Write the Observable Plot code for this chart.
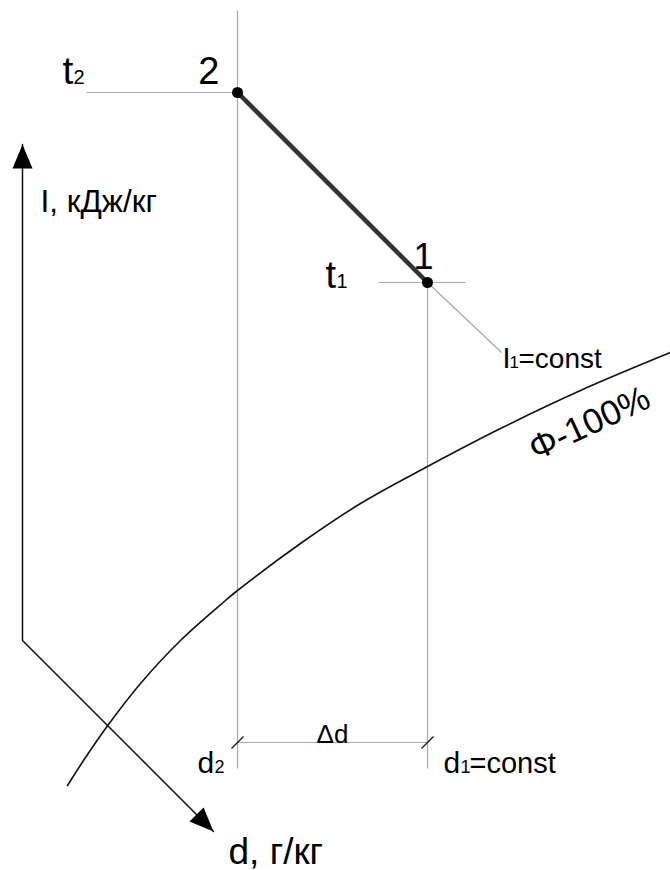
<!DOCTYPE html>
<html>
<head>
<meta charset="utf-8">
<script src="https://cdn.jsdelivr.net/npm/d3@7"></script>
<script src="https://cdn.jsdelivr.net/npm/@observablehq/plot@0.6"></script>
<style>
  html, body { margin: 0; padding: 0; background: #fff; }
</style>
</head>
<body>
<div id="chart"></div>
<script>
// Diagram coordinates (d to the right, I downward in screen sense of the sketch)
const state2 = {name: "2", d: 237, I: 92};
const state1 = {name: "1", d: 427, I: 282};

// φ = 100% saturation curve
const phiD = [67, 85, 108, 140, 180, 225, 237, 300, 360, 427, 500, 580, 670];
const phiI = [785, 757, 724, 683, 640, 600, 590, 543, 503, 466, 428, 390, 352];

// Thin grey construction lines: [d1, I1, d2, I2]
const guideLines = [
  [237, 10, 237, 768],   // d2 = const
  [427, 282, 427, 768],  // d1 = const
  [86, 92, 237, 92],     // t2
  [378, 282, 465, 282],  // t1
  [427, 282, 501, 352],  // I1 = const
  [237, 742, 427, 742]   // Δd dimension
];
const dimTicks = [
  [231, 748, 243, 736],
  [421, 748, 433, 736]
];

// Axes of the I-d chart
const axisOrigin = [22, 640];
const axisITip = [22, 144];
const axisDTip = [213, 831];

// Labels: text, position (baseline), size, anchor
const labels = [
  {t: "t", x: 62, y: 83, s: 39, a: "start"},
  {t: "2", x: 73, y: 83, s: 20, a: "start"},
  {t: "2", x: 219, y: 83, s: 38, a: "end"},
  {t: "1", x: 433, y: 268, s: 36, a: "end"},
  {t: "t", x: 325, y: 287, s: 38, a: "start"},
  {t: "1", x: 336, y: 287, s: 20, a: "start"},
  {t: "I", x: 502, y: 367, s: 29, a: "start"},
  {t: "1", x: 509, y: 367, s: 17, a: "start"},
  {t: "=const", x: 518, y: 367, s: 28, a: "start"},
  {t: "I, кДж/кг", x: 40, y: 211, s: 31.5, a: "start"},
  {t: "d", x: 197, y: 772, s: 30, a: "start"},
  {t: "2", x: 214, y: 772, s: 18, a: "start"},
  {t: "Δd", x: 332, y: 742, s: 26, a: "middle"},
  {t: "d", x: 443, y: 772, s: 30, a: "start"},
  {t: "1", x: 460, y: 772, s: 18, a: "start"},
  {t: "=const", x: 469, y: 772, s: 29, a: "start"},
  {t: "d, г/кг", x: 228, y: 863, s: 37, a: "start"}
];
const phiLabel = {t: "Φ-100%", x: 589, y: 423, s: 35, rotate: -25};

const FONT = "'Liberation Sans', Arial, sans-serif";

const phi = phiD.map((d, i) => ({d, I: phiI[i]}));
const seg = (arr) => arr.map(([x1, y1, x2, y2]) => ({x1, y1, x2, y2}));

const arrowHead = {
  draw(ctx) {
    ctx.moveTo(0, 0);
    ctx.lineTo(-10, 24);
    ctx.lineTo(10, 24);
    ctx.closePath();
  }
};

const textMarks = ["start", "middle", "end"].map(a =>
  Plot.text(labels.filter(l => l.a === a), {
    x: "x", y: "y", text: "t", fontSize: "s", textAnchor: a,
    lineAnchor: "bottom", fill: "#000", fontFamily: FONT
  })
);

const chart = Plot.plot({
  width: 670,
  height: 870,
  margin: 0,
  x: {domain: [0, 670], axis: null},
  y: {domain: [0, 870], reverse: true, axis: null},
  style: {fontFamily: FONT, background: "#fff"},
  marks: [
    Plot.link(seg(guideLines), {x1: "x1", y1: "y1", x2: "x2", y2: "y2", stroke: "#a8a8a8", strokeWidth: 1.2}),
    Plot.link(seg(dimTicks), {x1: "x1", y1: "y1", x2: "x2", y2: "y2", stroke: "#222", strokeWidth: 1.5}),
    Plot.line(phi, {x: "d", y: "I", curve: "catmull-rom", stroke: "#111", strokeWidth: 1.6}),
    Plot.line([axisITip, axisOrigin, axisDTip], {x: d => d[0], y: d => d[1], stroke: "#111", strokeWidth: 1.5}),
    Plot.dot([{p: axisITip, r: 0}, {p: axisDTip, r: 135}], {x: d => d.p[0], y: d => d.p[1], symbol: arrowHead, rotate: "r", fill: "#000", stroke: "none"}),
    Plot.line([state2, state1], {x: "d", y: "I", stroke: "#333", strokeWidth: 4.5}),
    Plot.dot([state2, state1], {x: "d", y: "I", r: 5.5, fill: "#000"}),
    ...textMarks,
    Plot.text([phiLabel], {x: "x", y: "y", text: "t", fontSize: "s", rotate: "rotate", lineAnchor: "middle", textAnchor: "middle", fill: "#000", fontFamily: FONT})
  ]
});
document.getElementById("chart").appendChild(chart);
</script>
</body>
</html>
